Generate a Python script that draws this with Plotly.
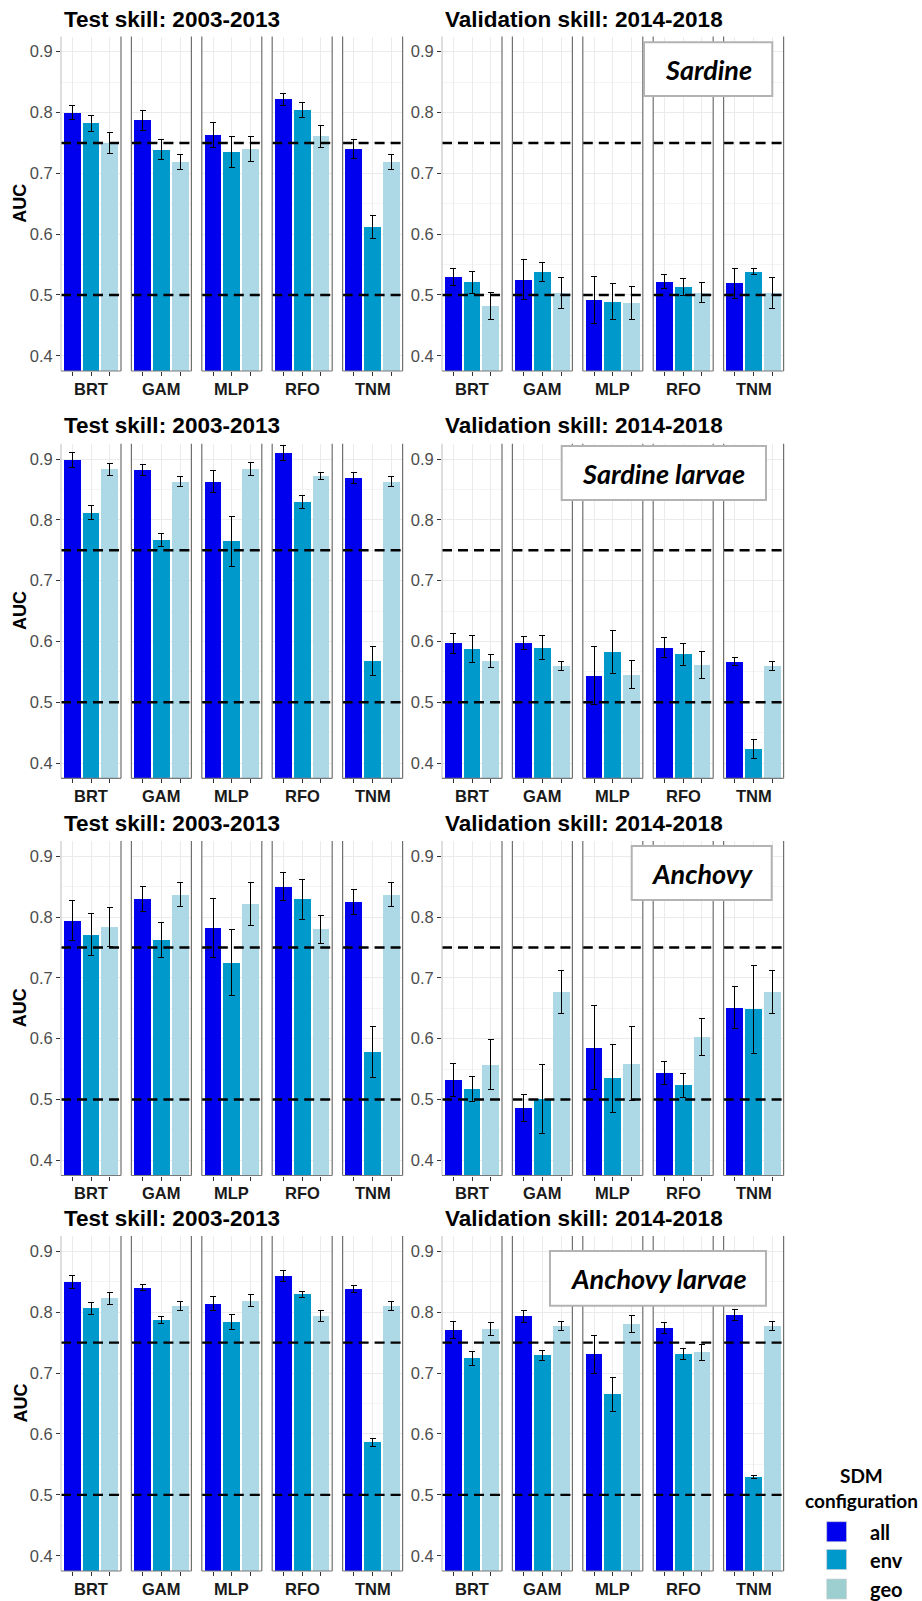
import plotly.graph_objects as go

# ---------------- data ----------------
models = ["BRT", "GAM", "MLP", "RFO", "TNM"]
configs = ["all", "env", "geo"]
species = ["Sardine", "Sardine larvae", "Anchovy", "Anchovy larvae"]
periods = ["Test skill: 2003-2013", "Validation skill: 2014-2018"]
y_ticks = [0.4, 0.5, 0.6, 0.7, 0.8, 0.9]
ref_lines = [0.5, 0.75]

# Sardine
sardine_test_all = [0.800, 0.787, 0.763, 0.822, 0.740]
sardine_test_all_err = [0.011, 0.016, 0.021, 0.010, 0.015]
sardine_test_env = [0.782, 0.739, 0.735, 0.804, 0.6125]
sardine_test_env_err = [0.013, 0.016, 0.025, 0.012, 0.019]
sardine_test_geo = [0.750, 0.719, 0.740, 0.761, 0.719]
sardine_test_geo_err = [0.017, 0.0125, 0.0205, 0.018, 0.012]
sardine_val_all = [0.529, 0.525, 0.492, 0.522, 0.519]
sardine_val_all_err = [0.014, 0.033, 0.039, 0.012, 0.024]
sardine_val_env = [0.521, 0.538, 0.489, 0.513, 0.538]
sardine_val_env_err = [0.018, 0.016, 0.030, 0.0145, 0.005]
sardine_val_geo = [0.482, 0.503, 0.487, 0.504, 0.503]
sardine_val_geo_err = [0.022, 0.025, 0.027, 0.017, 0.025]

# Sardine larvae
sardl_test_all = [0.898, 0.882, 0.863, 0.910, 0.868]
sardl_test_all_err = [0.012, 0.0096, 0.0186, 0.012, 0.009]
sardl_test_env = [0.812, 0.767, 0.765, 0.829, 0.568]
sardl_test_env_err = [0.012, 0.0104, 0.041, 0.011, 0.024]
sardl_test_geo = [0.883, 0.863, 0.884, 0.872, 0.863]
sardl_test_geo_err = [0.010, 0.009, 0.011, 0.006, 0.009]
sardl_val_all = [0.597, 0.597, 0.544, 0.590, 0.567]
sardl_val_all_err = [0.016, 0.011, 0.048, 0.016, 0.006]
sardl_val_env = [0.588, 0.590, 0.583, 0.579, 0.423]
sardl_val_env_err = [0.022, 0.019, 0.035, 0.018, 0.016]
sardl_val_geo = [0.568, 0.559, 0.545, 0.561, 0.559]
sardl_val_geo_err = [0.011, 0.0074, 0.023, 0.022, 0.0074]

# Anchovy
anch_test_all = [0.794, 0.830, 0.782, 0.850, 0.825]
anch_test_all_err = [0.0326, 0.021, 0.049, 0.023, 0.021]
anch_test_env = [0.771, 0.762, 0.725, 0.829, 0.578]
anch_test_env_err = [0.035, 0.029, 0.054, 0.033, 0.042]
anch_test_geo = [0.784, 0.837, 0.821, 0.780, 0.837]
anch_test_geo_err = [0.032, 0.019, 0.035, 0.023, 0.0195]
anch_val_all = [0.532, 0.486, 0.585, 0.544, 0.651]
anch_val_all_err = [0.027, 0.0225, 0.069, 0.019, 0.034]
anch_val_env = [0.517, 0.501, 0.535, 0.523, 0.648]
anch_val_env_err = [0.020, 0.057, 0.056, 0.019, 0.072]
anch_val_geo = [0.557, 0.677, 0.559, 0.603, 0.677]
anch_val_geo_err = [0.041, 0.035, 0.061, 0.030, 0.035]

# Anchovy larvae
anchl_test_all = [0.849, 0.840, 0.814, 0.859, 0.838]
anchl_test_all_err = [0.0104, 0.0047, 0.0115, 0.009, 0.0055]
anchl_test_env = [0.806, 0.787, 0.784, 0.829, 0.586]
anchl_test_env_err = [0.0093, 0.0058, 0.0118, 0.0055, 0.0063]
anchl_test_geo = [0.823, 0.810, 0.819, 0.794, 0.810]
anchl_test_geo_err = [0.0099, 0.0077, 0.0099, 0.009, 0.0077]
anchl_val_all = [0.771, 0.793, 0.731, 0.774, 0.796]
anchl_val_all_err = [0.0137, 0.010, 0.031, 0.0085, 0.009]
anchl_val_env = [0.724, 0.729, 0.665, 0.732, 0.529]
anchl_val_env_err = [0.0118, 0.008, 0.0277, 0.009, 0.0027]
anchl_val_geo = [0.773, 0.777, 0.780, 0.734, 0.777]
anchl_val_geo_err = [0.0107, 0.007, 0.0142, 0.0129, 0.007]

panels = [
    [((sardine_test_all, sardine_test_all_err), (sardine_test_env, sardine_test_env_err), (sardine_test_geo, sardine_test_geo_err)),
     ((sardine_val_all, sardine_val_all_err), (sardine_val_env, sardine_val_env_err), (sardine_val_geo, sardine_val_geo_err))],
    [((sardl_test_all, sardl_test_all_err), (sardl_test_env, sardl_test_env_err), (sardl_test_geo, sardl_test_geo_err)),
     ((sardl_val_all, sardl_val_all_err), (sardl_val_env, sardl_val_env_err), (sardl_val_geo, sardl_val_geo_err))],
    [((anch_test_all, anch_test_all_err), (anch_test_env, anch_test_env_err), (anch_test_geo, anch_test_geo_err)),
     ((anch_val_all, anch_val_all_err), (anch_val_env, anch_val_env_err), (anch_val_geo, anch_val_geo_err))],
    [((anchl_test_all, anchl_test_all_err), (anchl_test_env, anchl_test_env_err), (anchl_test_geo, anchl_test_geo_err)),
     ((anchl_val_all, anchl_val_all_err), (anchl_val_env, anchl_val_env_err), (anchl_val_geo, anchl_val_geo_err))],
]

# ---------------- styling / layout ----------------
W, H = 922, 1601
bar_colors = ["#0000EE", "#0099CC", "#ADD8E6"]
legend_colors = ["#0000EE", "#0099CC", "#9ECFD0"]
ARIAL = "Liberation Sans"
CALIBRI = "Lato"

row_tops = [36.5, 443.8, 841.0, 1236.0]
row_bots = [371.0, 778.3, 1175.5, 1571.0]
title_ys = [20.0, 425.7, 823.3, 1218.3]
col_x0 = [61.0, 442.0]
title_x = [62.0, 442.5]
facet_step = 70.4
facet_w = 60.0
box_px = [(644, 42.3, 772.3, 96), (561.7, 446, 766, 500),
          (631.7, 846, 771.7, 900), (550, 1251, 766, 1305.7)]


def fx(p):
    return p / W


def fy(p):
    return 1 - p / H


fig = go.Figure()
layout = dict(width=W, height=H, margin=dict(l=0, r=0, t=0, b=0, autoexpand=False),
              plot_bgcolor="white", paper_bgcolor="white",
              showlegend=False, bargap=0)
shapes = []
annotations = []

n = 0
for r, sp in enumerate(species):
    top, bot = row_tops[r], row_bots[r]
    for c, period in enumerate(periods):
        annotations.append(dict(text="<b>" + period + "</b>", x=fx(title_x[c]), y=fy(title_ys[r]),
                                xref="paper", yref="paper", xanchor="left", yanchor="middle",
                                showarrow=False, font=dict(family=ARIAL, size=22.5, color="black")))
        for f, m in enumerate(models):
            n += 1
            xk = "xaxis" if n == 1 else f"xaxis{n}"
            yk = "yaxis" if n == 1 else f"yaxis{n}"
            xs = "x" if n == 1 else f"x{n}"
            ys = "y" if n == 1 else f"y{n}"
            x0 = col_x0[c] + f * facet_step
            layout[xk] = dict(domain=[fx(x0), fx(x0 + facet_w)], range=[0.4, 3.6], anchor=ys,
                              tickvals=[1, 2, 3], ticks="outside", ticklen=4, tickwidth=1,
                              tickcolor="#333333", showticklabels=False, showgrid=True,
                              gridcolor="#ebebeb", gridwidth=1, zeroline=False, showline=False,
                              fixedrange=True)
            layout[yk] = dict(domain=[fy(bot), fy(top)], range=[0.375, 0.925], anchor=xs,
                              tickvals=y_ticks, showgrid=True, gridcolor="#ebebeb", gridwidth=1,
                              minor=dict(tickvals=[0.45, 0.55, 0.65, 0.75, 0.85], showgrid=True,
                                         gridcolor="#f4f4f4", gridwidth=1),
                              zeroline=False, showline=False, fixedrange=True,
                              showticklabels=(f == 0), ticks=("outside" if f == 0 else ""),
                              ticklen=4, tickwidth=1, tickcolor="#333333", tickformat=".1f",
                              tickfont=dict(family=ARIAL, size=16.5, color="#4d4d4d"))
            vals = [panels[r][c][k][0][f] for k in range(3)]
            errs = [panels[r][c][k][1][f] for k in range(3)]
            fig.add_trace(go.Bar(x=[1, 2, 3], y=vals, width=0.9, xaxis=xs, yaxis=ys,
                                 marker=dict(color=bar_colors, line=dict(width=0)),
                                 error_y=dict(type="data", array=errs, color="black",
                                              thickness=1, width=3),
                                 hoverinfo="skip", showlegend=False))
            # reference lines
            for v in ref_lines:
                shapes.append(dict(type="line", xref=f"{xs} domain", yref=ys, x0=0, x1=1, y0=v, y1=v,
                                   line=dict(color="black", width=2.4, dash="10px,6px"), layer="above"))
            # facet borders
            lc = "#c8c8c8" if f == 0 else "#707070"
            shapes.append(dict(type="line", xref=f"{xs} domain", yref=f"{ys} domain", x0=0, x1=0,
                               y0=0, y1=1, line=dict(color=lc, width=1.2), layer="above"))
            shapes.append(dict(type="line", xref=f"{xs} domain", yref=f"{ys} domain", x0=1, x1=1,
                               y0=0, y1=1, line=dict(color="#707070", width=1.2), layer="above"))
            shapes.append(dict(type="line", xref=f"{xs} domain", yref=f"{ys} domain", x0=0, x1=1,
                               y0=0, y1=0, line=dict(color="#7a7a7a", width=1.2), layer="above"))
            # facet label
            annotations.append(dict(text="<b>" + m + "</b>", x=fx(x0 + facet_w / 2), y=fy(bot + 17.5),
                                    xref="paper", yref="paper", xanchor="center", yanchor="middle",
                                    showarrow=False, font=dict(family=ARIAL, size=16.5, color="#1a1a1a")))
    # AUC label
    annotations.append(dict(text="<b>AUC</b>", x=fx(20), y=fy((top + bot) / 2), xref="paper", yref="paper",
                            xanchor="center", yanchor="middle", textangle=-90, showarrow=False,
                            font=dict(family=ARIAL, size=18, color="black")))
    # species box
    bx0, by0, bx1, by1 = box_px[r]
    shapes.append(dict(type="rect", xref="paper", yref="paper", x0=fx(bx0), x1=fx(bx1), y0=fy(by1), y1=fy(by0),
                       fillcolor="white", line=dict(color="#b3b3b3", width=2), layer="above"))
    annotations.append(dict(text="<b><i>" + sp + "</i></b>", x=fx((bx0 + bx1) / 2), y=fy((by0 + by1) / 2),
                            xref="paper", yref="paper", xanchor="center", yanchor="middle", showarrow=False,
                            font=dict(family=CALIBRI, size=27, color="black")))

# manual legend
annotations.append(dict(text="<b>SDM</b>", x=fx(861), y=fy(1475), xref="paper", yref="paper",
                        xanchor="center", yanchor="middle", showarrow=False,
                        font=dict(family=CALIBRI, size=19, color="black")))
annotations.append(dict(text="<b>configuration</b>", x=fx(861), y=fy(1500), xref="paper", yref="paper",
                        xanchor="center", yanchor="middle", showarrow=False,
                        font=dict(family=CALIBRI, size=19, color="black")))
sw_tops = [1521.7, 1549.5, 1579.0]
lab_ys = [1531.5, 1559.5, 1589.0]
for k, cfg in enumerate(configs):
    shapes.append(dict(type="rect", xref="paper", yref="paper", x0=fx(826.7), x1=fx(846.5),
                       y0=fy(sw_tops[k] + 20), y1=fy(sw_tops[k]), fillcolor=legend_colors[k],
                       line=dict(color="#cccccc", width=0.6), layer="above"))
    annotations.append(dict(text="<b>" + cfg + "</b>", x=fx(867.5), y=fy(lab_ys[k]), xref="paper", yref="paper",
                            xanchor="left", yanchor="middle", showarrow=False,
                            font=dict(family=CALIBRI, size=20, color="black")))

layout["shapes"] = shapes
layout["annotations"] = annotations
fig.update_layout(**layout)
fig.write_html("out.html", config={"displayModeBar": False, "staticPlot": True},
               post_script="document.body.style.margin='0px';document.body.style.padding='0px';")
